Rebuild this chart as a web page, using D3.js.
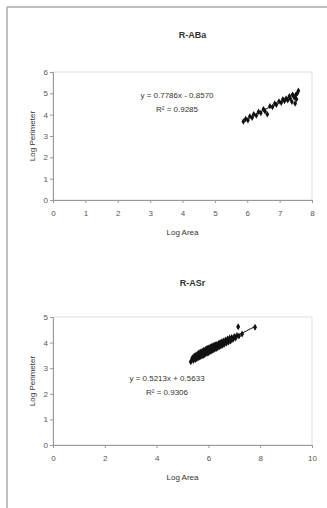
<!DOCTYPE html>
<html><head><meta charset="utf-8">
<script src="https://cdn.jsdelivr.net/npm/d3@7"></script>
<style>body{margin:0;background:#fff}svg{display:block}text{font-family:"Liberation Sans",Arial,sans-serif}</style>
</head><body><svg id="c" width="327" height="508"></svg>
<script>
// Chart 1: R-ABa
const title1 = "R-ABa";
const xTicks1 = [0,1,2,3,4,5,6,7,8];
const yTicks1 = [0,1,2,3,4,5,6];
const logArea1 = [5.88,5.95,6.02,6.08,6.15,6.20,6.28,6.35,6.42,6.50,6.55,6.62,6.70,6.78,6.85,6.90,6.98,7.05,7.10,7.15,7.20,7.25,7.30,7.33,7.38,7.40,7.45,7.48,7.50,7.52,7.55,7.58];
const logPerim1 = [3.68,3.80,3.74,3.92,3.86,4.02,3.96,4.14,4.08,4.26,4.16,4.02,4.40,4.36,4.52,4.46,4.62,4.56,4.72,4.64,4.76,4.68,4.86,4.76,4.60,4.94,4.80,4.52,4.92,4.72,5.02,5.12];
const fit1 = {slope:0.7786, intercept:-0.8570};
const eq1 = ["y = 0.7786x - 0.8570", "R² = 0.9285"];

// Chart 2: R-ASr
const title2 = "R-ASr";
const xTicks2 = [0,2,4,6,8,10];
const yTicks2 = [0,1,2,3,4,5];
const logArea2 = [5.32,5.38,5.42,5.45,5.50,5.52,5.55,5.58,5.60,5.62,5.65,5.68,5.70,5.72,5.75,5.78,5.80,5.82,5.85,5.88,5.90,5.92,5.95,5.98,6.00,6.02,6.05,6.08,6.10,6.12,6.15,6.18,6.20,6.22,6.25,6.28,6.30,6.33,6.36,6.40,6.42,6.45,6.48,6.52,6.55,6.58,6.62,6.66,6.70,6.74,6.78,6.82,6.86,6.90,6.95,7.00,7.05,7.10,7.15,7.18,7.30,7.80];
const logPerim2 = [3.25,3.40,3.30,3.48,3.34,3.52,3.38,3.55,3.40,3.58,3.44,3.62,3.46,3.64,3.48,3.66,3.50,3.70,3.53,3.72,3.56,3.76,3.58,3.78,3.60,3.80,3.64,3.83,3.66,3.85,3.70,3.88,3.72,3.90,3.75,3.92,3.77,3.94,3.80,3.97,3.84,4.00,3.87,4.03,3.90,4.06,3.94,4.10,3.98,4.14,4.02,4.18,4.06,4.20,4.12,4.24,4.18,4.28,4.62,4.26,4.34,4.60];
const fit2 = {slope:0.5213, intercept:0.5633};
const eq2 = ["y = 0.5213x + 0.5633", "R² = 0.9306"];

const svg = d3.select("#c");
// outer frame
svg.append("line").attr("x1",7).attr("y1",7).attr("x2",327).attr("y2",7).attr("stroke","#aaa").attr("stroke-width",1.5);
svg.append("line").attr("x1",7).attr("y1",7).attr("x2",7).attr("y2",508).attr("stroke","#aaa").attr("stroke-width",1.5);

function chart(cfg){
  const {top,bottom,left,right,title,titleY,xTicks,yTicks,xs,ys,fit,eq,eqX,eqY,msize} = cfg;
  const x = d3.scaleLinear().domain([xTicks[0],xTicks[xTicks.length-1]]).range([left,right]);
  const y = d3.scaleLinear().domain([yTicks[0],yTicks[yTicks.length-1]]).range([bottom,top]);
  const g = svg.append("g");
  g.append("rect").attr("x",left).attr("y",top).attr("width",right-left).attr("height",bottom-top)
    .attr("fill","none").attr("stroke","#ddd").attr("stroke-width",1);
  const xa = g.append("g").attr("transform",`translate(0,${bottom})`)
    .call(d3.axisBottom(x).tickValues(xTicks).tickSize(3).tickPadding(7).tickFormat(d3.format("d")));
  const ya = g.append("g").attr("transform",`translate(${left},0)`)
    .call(d3.axisLeft(y).tickValues(yTicks).tickSize(3).tickPadding(2).tickFormat(d3.format("d")));
  [xa,ya].forEach(a=>{
    a.select(".domain").attr("stroke","#999");
    a.selectAll(".tick line").attr("stroke","#999");
    a.selectAll("text").attr("fill","#555").attr("font-size",8);
  });
  g.append("text").attr("x",(left+right)/2+10).attr("y",titleY).attr("text-anchor","middle")
    .attr("font-size",9).attr("font-weight","bold").attr("fill","#333").text(title);
  g.append("text").attr("x",(left+right)/2).attr("y",bottom+35).attr("text-anchor","middle")
    .attr("font-size",8).attr("fill","#333").text("Log Area");
  g.append("text").attr("transform",`translate(${left-18},${(top+bottom)/2}) rotate(-90)`).attr("text-anchor","middle")
    .attr("font-size",8).attr("fill","#333").text("Log Perimeter");
  const xmin = d3.min(xs), xmax = d3.max(xs);
  g.append("line").attr("x1",x(xmin)).attr("y1",y(fit.slope*xmin+fit.intercept))
    .attr("x2",x(xmax)).attr("y2",y(fit.slope*xmax+fit.intercept)).attr("stroke","#111").attr("stroke-width",1);
  const sym = d3.symbol().type(d3.symbolDiamond).size(msize);
  g.selectAll("path.pt").data(xs.map((v,i)=>[v,ys[i]])).join("path").attr("class","pt")
    .attr("d",sym).attr("transform",d=>`translate(${x(d[0])},${y(d[1])})`).attr("fill","#111");
  eq.forEach((t,i)=>g.append("text").attr("x",eqX).attr("y",eqY+i*14).attr("text-anchor","middle")
    .attr("font-size",8).attr("fill","#333").text(t));
}

chart({top:72,bottom:200,left:53,right:312,title:title1,titleY:38,xTicks:xTicks1,yTicks:yTicks1,
  xs:logArea1,ys:logPerim1,fit:fit1,eq:eq1,eqX:177,eqY:98,msize:12});
chart({top:317,bottom:445,left:53,right:312,title:title2,titleY:286,xTicks:xTicks2,yTicks:yTicks2,
  xs:logArea2,ys:logPerim2,fit:fit2,eq:eq2,eqX:167,eqY:381,msize:14});
</script></body></html>
